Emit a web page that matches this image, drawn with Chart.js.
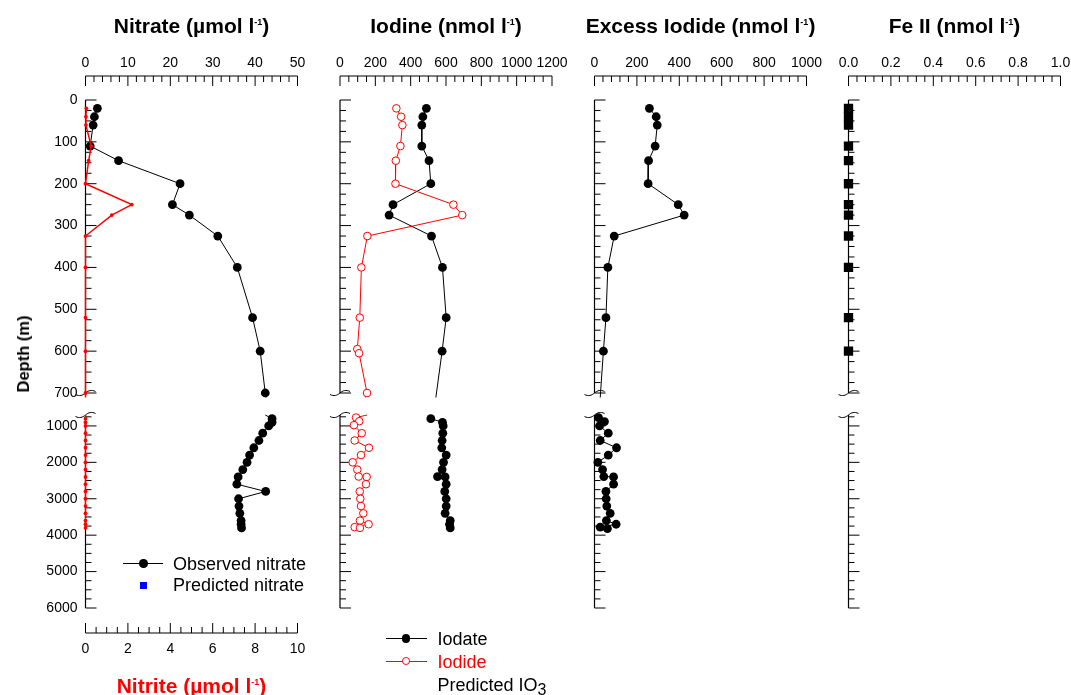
<!DOCTYPE html>
<html>
<head>
<meta charset="utf-8">
<title>Nitrate, iodine, excess iodide and Fe II depth profiles</title>
<script src="https://cdn.jsdelivr.net/npm/chart.js@4.4.1/dist/chart.umd.min.js"></script>
<style>
  html, body { margin: 0; padding: 0; background: #fff; }
  #fig { position: relative; width: 1071px; height: 695px; overflow: hidden;
         font-family: "Liberation Sans", Arial, Helvetica, sans-serif; color: #000; }
  #fig canvas { position: absolute; left: 0; top: 0; }
  .title { position: absolute; font-weight: bold; font-size: 21px; line-height: 24px;
           white-space: nowrap; transform: translateX(-50%); }
  .title sup { font-size: 9px; line-height: 0; vertical-align: 8px; }
  .ylab { position: absolute; left: 22.5px; top: 354px; font-weight: bold; font-size: 16.5px;
          line-height: 20px; white-space: nowrap; transform: translate(-50%, -50%) rotate(-90deg); }
  .lg { position: absolute; font-size: 18px; line-height: 20px; white-space: nowrap; }
  .lg sub { font-size: 16px; line-height: 0; vertical-align: -4px; }
  .lg-line { position: absolute; height: 0; border-top: 1px solid #000; }
  .lg-dot { position: absolute; border-radius: 50%; box-sizing: border-box; }
</style>
</head>
<body>
<div id="fig">
  <canvas id="c-no3-up" width="1071" height="695"></canvas>
  <canvas id="c-no3-lo" width="1071" height="695"></canvas>
  <canvas id="c-io-up" width="1071" height="695"></canvas>
  <canvas id="c-io-lo" width="1071" height="695"></canvas>
  <canvas id="c-ex-up" width="1071" height="695"></canvas>
  <canvas id="c-ex-lo" width="1071" height="695"></canvas>
  <canvas id="c-fe-up" width="1071" height="695"></canvas>
  <canvas id="c-fe-lo" width="1071" height="695"></canvas>

  <div class="title" style="left:191.5px;top:13.5px">Nitrate (µmol l<sup>-1</sup>)</div>
  <div class="title" style="left:446px;top:13.5px">Iodine (nmol l<sup>-1</sup>)</div>
  <div class="title" style="left:700.5px;top:13.5px">Excess Iodide (nmol l<sup>-1</sup>)</div>
  <div class="title" style="left:954.5px;top:13.5px">Fe II (nmol l<sup>-1</sup>)</div>
  <div class="title" style="left:191.5px;top:673.5px;color:#ff0000">Nitrite (µmol l<sup>-1</sup>)</div>
  <div class="ylab">Depth (m)</div>

  <!-- legend, nitrate panel -->
  <div class="lg-line" style="left:123px;top:563px;width:40px"></div>
  <div class="lg-dot" style="left:139px;top:559px;width:8.6px;height:8.6px;background:#000"></div>
  <div class="lg" style="left:173px;top:553.5px">Observed nitrate</div>
  <div style="position:absolute;left:139.8px;top:581.5px;width:7px;height:7px;background:#0000ff"></div>
  <div class="lg" style="left:173px;top:575.2px">Predicted nitrate</div>

  <!-- legend, iodine panel -->
  <div class="lg-line" style="left:386px;top:638px;width:41px"></div>
  <div class="lg-dot" style="left:401.7px;top:634.4px;width:8.6px;height:8.6px;background:#000"></div>
  <div class="lg" style="left:437.5px;top:629.3px">Iodate</div>
  <div class="lg-line" style="left:386px;top:660.5px;width:41px;border-color:#ff0000"></div>
  <div class="lg-dot" style="left:402.1px;top:657.1px;width:7.8px;height:7.8px;background:#fff;border:1px solid #ff0000"></div>
  <div class="lg" style="left:437.5px;top:651.5px;color:#ff0000">Iodide</div>
  <div class="lg" style="left:437.5px;top:675px">Predicted IO<sub>3</sub></div>
</div>

<script>
const FONT = '"Liberation Sans", Arial, Helvetica, sans-serif';
const RED = "#ff0000";
const BLACK = "#000000";

// ---------- tick labels ----------
const depthTicksUpper = [0, 100, 200, 300, 400, 500, 600, 700];
const depthTicksLower = [1000, 2000, 3000, 4000, 5000, 6000];
const nitrateTicks = [0, 10, 20, 30, 40, 50];
const nitriteTicks = [0, 2, 4, 6, 8, 10];
const iodineTicks = [0, 200, 400, 600, 800, 1000, 1200];
const excessTicks = [0, 200, 400, 600, 800, 1000];
const feTicks = [0, 0.2, 0.4, 0.6, 0.8, 1.0];

// ---------- data ----------
const nitrateDepth = [20, 40, 60, 110, 145, 200, 250, 275, 325, 400, 520, 600, 700,
  800, 900, 1000, 1200, 1400, 1600, 1800, 2000, 2200, 2400, 2600, 2800, 3000, 3200, 3400, 3600, 3700, 3800];
const nitrate = [2.8, 2.1, 1.8, 1.1, 7.8, 22.3, 20.5, 24.5, 31.2, 35.8, 39.4, 41.2, 42.4,
  44.0, 44.0, 43.2, 41.8, 40.9, 39.7, 38.7, 38.1, 37.1, 36.0, 35.7, 42.5, 36.1, 36.2, 36.4, 36.7, 36.7, 36.8];
const nitrite = [0.04, 0.02, 0.02, 0.27, 0.15, 0, 2.18, 1.24, 0, 0, 0, 0, 0,
  0, 0, 0, 0, 0, 0, 0, 0, 0, 0, 0, 0, 0, 0, 0, 0, 0, 0];

const iodateDepth = [20, 40, 60, 110, 145, 200, 250, 275, 325, 400, 520, 600,
  800, 900, 1000, 1200, 1400, 1600, 1800, 2000, 2200, 2390, 2400, 2600, 2800, 3000, 3200, 3400, 3600, 3700, 3800];
const iodate = [489, 469, 463, 463, 504, 514, 300, 278, 518, 580, 601, 578,
  514, 580, 584, 582, 578, 576, 601, 586, 578, 552, 595, 601, 593, 601, 601, 595, 624, 620, 624];

const iodideDepth = [20, 40, 60, 110, 145, 200, 250, 275, 325, 400, 520, 595, 605, 700,
  770, 870, 980, 1200, 1400, 1600, 1800, 2000, 2200, 2390, 2400, 2600, 2800, 3000, 3200, 3400, 3600, 3700, 3780, 3800];
const iodide = [319, 346, 353, 342, 316, 314, 642, 692, 155, 121, 112, 98, 108, 153,
  91, 109, 79, 123, 83, 164, 119, 72, 98, 106, 151, 147, 112, 115, 119, 132, 113, 162, 83, 113];

const excessDepth = [20, 40, 60, 110, 145, 200, 250, 275, 325, 400, 520, 600,
  770, 880, 1000, 1200, 1400, 1600, 1800, 2000, 2200, 2390, 2400, 2600, 2800, 3000, 3200, 3400, 3600, 3700, 3780, 3820];
const excessIodide = [259, 291, 296, 286, 255, 253, 395, 423, 93, 63, 54, 42,
  19, 47, 24, 65, 27, 104, 65, 16, 38, 44, 90, 90, 54, 55, 58, 74, 56, 102, 27, 61];

const feDepth = [20, 40, 60, 110, 145, 200, 250, 275, 325, 400, 520, 600];
const fe = [0, 0, 0, 0, 0, 0, 0, 0, 0, 0, 0, 0];

// ---------- layout ----------
const W = 1071, H = 695;
const PANEL_LEFT = [85.5, 340, 594.5, 848.5];
const PANEL_W = 212;
const UP = { top: 100, bottom: 393, min: 0, max: 700 };
const LO = { top: 415, bottom: 608, min: 700, max: 6000 };
const BREAK_DEPTH = 700;
const AXIS_BOX = 60; // fixed height of the detached top / bottom value axes
const plain = (v) => String(v);
const fmt1 = (v) => v.toFixed(1);

// axis lines + inward major/minor tick marks, and the "~" break marks
function axisMarks(axes, brk) {
  return {
    id: "axisMarks",
    beforeDatasetsDraw(chart) {
      const { ctx, chartArea: a } = chart;
      ctx.save();
      ctx.strokeStyle = BLACK;
      axes.forEach((ax) => {
        const s = chart.scales[ax.id];
        const yLine = ax.side === "top" ? a.top - ax.offset : a.bottom + ax.offset;
        ctx.lineWidth = 1.2;
        ctx.beginPath();
        if (ax.side === "left") {
          ctx.moveTo(a.left, a.top);
          ctx.lineTo(a.left, a.bottom);
        } else {
          ctx.moveTo(s.getPixelForValue(s.min), yLine);
          ctx.lineTo(s.getPixelForValue(s.max), yLine);
        }
        ctx.stroke();
        ctx.lineWidth = 1;
        ctx.beginPath();
        const first = Math.ceil(s.min / ax.minor - 1e-9);
        const last = Math.floor(s.max / ax.minor + 1e-9);
        for (let k = first; k <= last; k++) {
          const v = k * ax.minor;
          const major = ax.majors.some((m) => Math.abs(m - v) < ax.minor / 100);
          const p = s.getPixelForValue(v);
          if (ax.side === "left") {
            ctx.moveTo(a.left, p);
            ctx.lineTo(a.left + (major ? 11 : 6), p);
          } else if (ax.side === "top") {
            ctx.moveTo(p, yLine);
            ctx.lineTo(p, yLine + (major ? 10 : 6));
          } else {
            ctx.moveTo(p, yLine);
            ctx.lineTo(p, yLine - (major ? 10 : 6));
          }
        }
        ctx.stroke();
      });
      const x = a.left;
      const y = brk === "bottom" ? a.bottom : a.top;
      ctx.lineWidth = 1;
      ctx.beginPath();
      ctx.moveTo(x - 10, y + 1.5);
      ctx.bezierCurveTo(x - 6, y + 3.5, x - 3, y + 2.5, x, y);
      ctx.bezierCurveTo(x + 3, y - 2.5, x + 6, y - 3.5, x + 10, y - 1.5);
      ctx.stroke();
      ctx.restore();
    },
  };
}

function xScale(position, min, max, ticks, shown, gap, fmt) {
  return {
    type: "linear", position, min, max, display: shown,
    afterBuildTicks: (s) => { s.ticks = ticks.map((v) => ({ value: v })); },
    afterFit: (s) => { if (shown) s.height = AXIS_BOX; },
    grid: { display: false, drawTicks: true, tickLength: gap },
    border: { display: false },
    ticks: {
      padding: 0, color: BLACK, autoSkip: false, maxRotation: 0, minRotation: 0,
      font: { family: FONT, size: 14 },
      callback: fmt || plain,
    },
  };
}

function yScale(sec, ticks, shown) {
  return {
    type: "linear", position: "left", reverse: true, min: sec.min, max: sec.max, display: shown,
    afterBuildTicks: (s) => { s.ticks = ticks.map((v) => ({ value: v })); },
    afterFit: (s) => { if (shown) s.width = 40; },
    grid: { display: false, drawTicks: true, tickLength: 8 },
    border: { display: false },
    ticks: { padding: 0, color: BLACK, autoSkip: false, font: { family: FONT, size: 14 }, callback: plain },
  };
}

function series(depths, values, style, xAxisID, part) {
  let pts = depths.map((d, i) => ({ x: values[i], y: d }));
  if (part === "lower") pts = pts.filter((p) => p.y >= BREAK_DEPTH);
  const r = style.pointRadius;
  return Object.assign({}, style, {
    data: pts,
    xAxisID,
    yAxisID: "y",
    showLine: style.showLine !== false,
    clip: part === "upper"
      ? { left: 12, top: 0, right: 12, bottom: 4.5 }
      : { left: 12, top: 5, right: 12, bottom: 6 },
    pointRadius: part === "lower"
      ? (c) => (c.raw && c.raw.y <= BREAK_DEPTH ? 0 : r)
      : r,
  });
}

function section(id, panel, part, scales, datasets, axes) {
  const sec = part === "upper" ? UP : LO;
  const left = PANEL_LEFT[panel];
  const showY = scales.y.display;
  const bottomAxis = part === "lower" && Object.values(scales).some((s) => s.display && s.position === "bottom");
  return new Chart(document.getElementById(id), {
    type: "scatter",
    data: { datasets },
    options: {
      responsive: false,
      animation: false,
      devicePixelRatio: 1,
      events: [],
      layout: {
        padding: {
          left: left - (showY ? 40 : 0),
          right: W - left - PANEL_W,
          top: part === "upper" ? sec.top - AXIS_BOX : sec.top,
          bottom: H - sec.bottom - (bottomAxis ? AXIS_BOX : 0),
        },
      },
      scales,
      plugins: { legend: { display: false }, tooltip: { enabled: false } },
    },
    plugins: [axisMarks(axes, part === "upper" ? "bottom" : "top")],
  });
}

// ---------- styles ----------
const blackDots = { borderColor: BLACK, borderWidth: 1, pointBackgroundColor: BLACK, pointBorderColor: BLACK,
  pointBorderWidth: 0, pointRadius: 4.4 };
const nitriteStyle = { borderColor: RED, borderWidth: 1.5, pointBackgroundColor: RED, pointBorderColor: RED,
  pointBorderWidth: 0, pointRadius: 1.9 };
const iodideStyle = { borderColor: RED, borderWidth: 1, pointBackgroundColor: "#ffffff", pointBorderColor: RED,
  pointBorderWidth: 1, pointRadius: 3.8 };
const feStyle = { showLine: false, pointStyle: "rect", pointBackgroundColor: BLACK, pointBorderWidth: 0,
  pointRadius: 6.6 };

const yAxisUp = { id: "y", side: "left", majors: depthTicksUpper, minor: 25 };
const yAxisLo = { id: "y", side: "left", majors: depthTicksLower, minor: 250 };

// ---------- panel 1: nitrate / nitrite ----------
["upper", "lower"].forEach((part) => {
  const up = part === "upper";
  section(up ? "c-no3-up" : "c-no3-lo", 0, part, {
    x: xScale("top", 0, 50, nitrateTicks, up, 28.6),
    x2: xScale("bottom", 0, 10, nitriteTicks, !up, 32.6),
    y: yScale(up ? UP : LO, up ? depthTicksUpper : depthTicksLower, true),
  }, [
    series(nitrateDepth, nitrite, nitriteStyle, "x2", part),
    series(nitrateDepth, nitrate, blackDots, "x", part),
  ], up
    ? [{ id: "x", side: "top", offset: 24, majors: nitrateTicks, minor: 2 }, yAxisUp]
    : [{ id: "x2", side: "bottom", offset: 25, majors: nitriteTicks, minor: 0.5 }, yAxisLo]);
});

// ---------- panel 2: iodate / iodide ----------
["upper", "lower"].forEach((part) => {
  const up = part === "upper";
  section(up ? "c-io-up" : "c-io-lo", 1, part, {
    x: xScale("top", 0, 1200, iodineTicks, up, 28.6),
    y: yScale(up ? UP : LO, up ? depthTicksUpper : depthTicksLower, false),
  }, [
    series(iodideDepth, iodide, iodideStyle, "x", part),
    series(iodateDepth, iodate, blackDots, "x", part),
  ], up
    ? [{ id: "x", side: "top", offset: 24, majors: iodineTicks, minor: 50 }, yAxisUp]
    : [yAxisLo]);
});

// ---------- panel 3: excess iodide ----------
["upper", "lower"].forEach((part) => {
  const up = part === "upper";
  section(up ? "c-ex-up" : "c-ex-lo", 2, part, {
    x: xScale("top", 0, 1000, excessTicks, up, 28.6),
    y: yScale(up ? UP : LO, up ? depthTicksUpper : depthTicksLower, false),
  }, [
    series(excessDepth, excessIodide, blackDots, "x", part),
  ], up
    ? [{ id: "x", side: "top", offset: 24, majors: excessTicks, minor: 40 }, yAxisUp]
    : [yAxisLo]);
});

// ---------- panel 4: Fe II ----------
["upper", "lower"].forEach((part) => {
  const up = part === "upper";
  section(up ? "c-fe-up" : "c-fe-lo", 3, part, {
    x: xScale("top", 0, 1, feTicks, up, 28.6, fmt1),
    y: yScale(up ? UP : LO, up ? depthTicksUpper : depthTicksLower, false),
  }, up ? [series(feDepth, fe, feStyle, "x", part)] : [], up
    ? [{ id: "x", side: "top", offset: 24, majors: feTicks, minor: 0.04 }, yAxisUp]
    : [yAxisLo]);
});
</script>
</body>
</html>
